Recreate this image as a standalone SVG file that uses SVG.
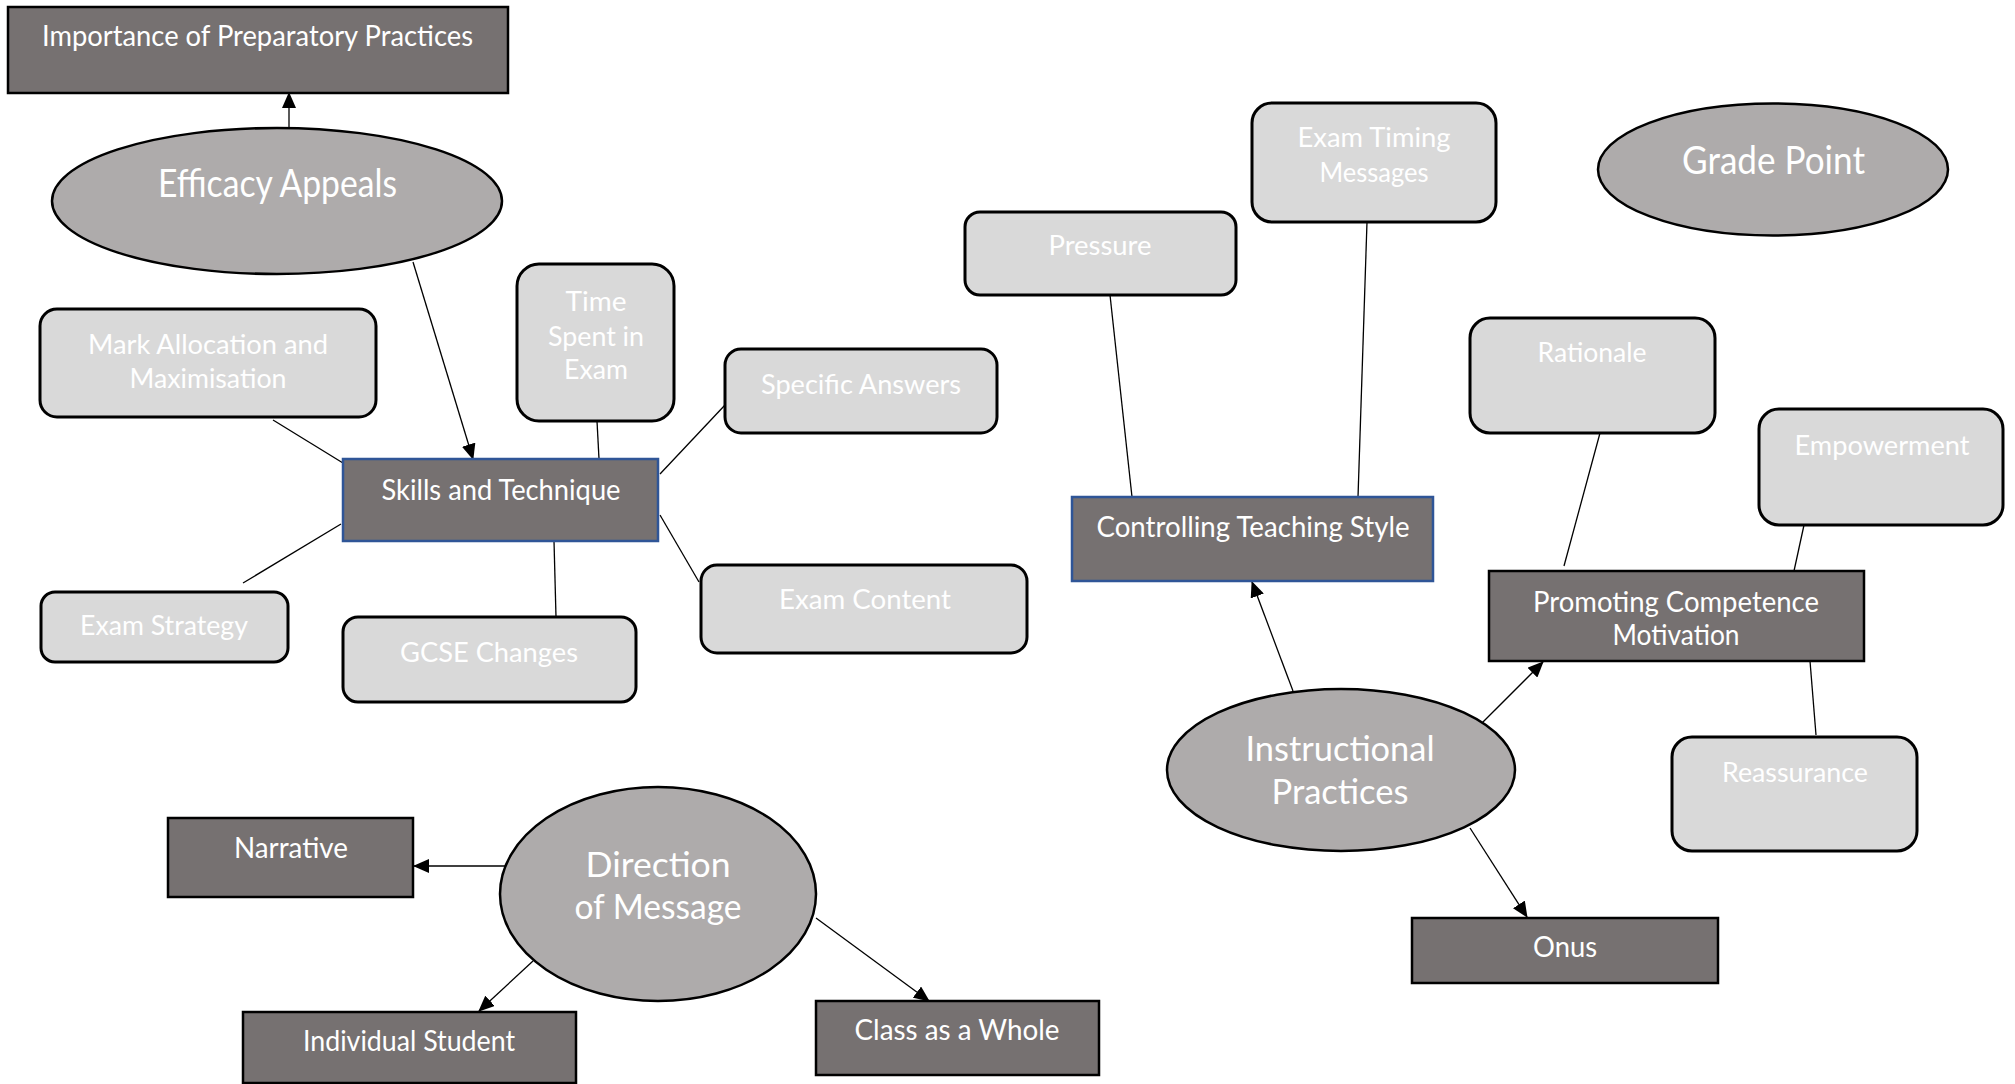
<svg xmlns="http://www.w3.org/2000/svg" width="2015" height="1084" viewBox="0 0 2015 1084">
<style>
.dark{fill:#767171;stroke:#000;stroke-width:2.5}
.dkb{fill:#767171;stroke:#2F5597;stroke-width:2.5}
.light{fill:#D9D9D9;stroke:#000;stroke-width:3}
.ell{fill:#AEABAB;stroke:#000;stroke-width:2.5}
text{font-family:Lato,"Open Sans","Liberation Sans",sans-serif;fill:#fff;text-anchor:middle}
.t26{font-size:26px}
.t28{font-size:28px}
.t34{font-size:35px}
.t38{font-size:38px}
.c line{stroke:#000;stroke-width:1.3}
</style>
<defs>
<marker id="ah" markerUnits="userSpaceOnUse" markerWidth="16" markerHeight="14" refX="15" refY="7" orient="auto">
<path d="M0,0 L16,7 L0,14 Z" fill="#000"/>
</marker>
</defs>
<g class="c" id="connectors">
<line x1="289" y1="128" x2="289" y2="93" marker-end="url(#ah)"/>
<line x1="413" y1="262" x2="473" y2="459" marker-end="url(#ah)"/>
<line x1="273" y1="420" x2="343" y2="463"/>
<line x1="597" y1="421" x2="599" y2="459"/>
<line x1="660" y1="474" x2="725" y2="405"/>
<line x1="660" y1="515" x2="699" y2="582"/>
<line x1="341" y1="524" x2="243" y2="583"/>
<line x1="554" y1="541" x2="556" y2="617"/>
<line x1="1110" y1="295" x2="1132" y2="497"/>
<line x1="1367" y1="222" x2="1358" y2="497"/>
<line x1="1293" y1="691" x2="1252" y2="582" marker-end="url(#ah)"/>
<line x1="1480" y1="725" x2="1543" y2="662" marker-end="url(#ah)"/>
<line x1="1470" y1="828" x2="1527" y2="917" marker-end="url(#ah)"/>
<line x1="1600" y1="433" x2="1564" y2="566"/>
<line x1="1804" y1="525" x2="1794" y2="571"/>
<line x1="1810" y1="661" x2="1816" y2="735"/>
<line x1="506" y1="866" x2="414" y2="866" marker-end="url(#ah)"/>
<line x1="533" y1="961" x2="479" y2="1011" marker-end="url(#ah)"/>
<line x1="816" y1="918" x2="929" y2="1001" marker-end="url(#ah)"/>
</g>
<g id="importance"><rect class="dark" x="8" y="7" width="500" height="86"/><text class="t28" x="257.5" y="46" textLength="431" lengthAdjust="spacingAndGlyphs">Importance of Preparatory Practices</text></g>
<g id="efficacy"><ellipse class="ell" cx="277" cy="201" rx="225" ry="73"/><text class="t38" x="277.5" y="197" textLength="239" lengthAdjust="spacingAndGlyphs">Efficacy Appeals</text></g>
<g id="mark"><rect class="light" x="40" y="309" width="336" height="108" rx="17"/><text class="t26" x="208" y="354" textLength="240" lengthAdjust="spacingAndGlyphs">Mark Allocation and</text><text class="t26" x="208" y="388" textLength="157" lengthAdjust="spacingAndGlyphs">Maximisation</text></g>
<g id="time"><rect class="light" x="517" y="264" width="157" height="157" rx="22"/><text class="t26" x="596" y="311" textLength="61" lengthAdjust="spacingAndGlyphs">Time</text><text class="t26" x="596" y="346" textLength="96" lengthAdjust="spacingAndGlyphs">Spent in</text><text class="t26" x="596" y="379" textLength="64" lengthAdjust="spacingAndGlyphs">Exam</text></g>
<g id="skills"><rect class="dkb" x="343" y="459" width="315" height="82"/><text class="t28" x="501" y="500" textLength="239" lengthAdjust="spacingAndGlyphs">Skills and Technique</text></g>
<g id="specific"><rect class="light" x="725" y="349" width="272" height="84" rx="16"/><text class="t26" x="861" y="394" textLength="200" lengthAdjust="spacingAndGlyphs">Specific Answers</text></g>
<g id="content"><rect class="light" x="701" y="565" width="326" height="88" rx="16"/><text class="t26" x="865" y="609" textLength="172" lengthAdjust="spacingAndGlyphs">Exam Content</text></g>
<g id="strategy"><rect class="light" x="41" y="592" width="247" height="70" rx="14"/><text class="t26" x="164" y="635" textLength="168" lengthAdjust="spacingAndGlyphs">Exam Strategy</text></g>
<g id="gcse"><rect class="light" x="343" y="617" width="293" height="85" rx="15"/><text class="t26" x="489" y="662" textLength="178" lengthAdjust="spacingAndGlyphs">GCSE Changes</text></g>
<g id="pressure"><rect class="light" x="965" y="212" width="271" height="83" rx="15"/><text class="t26" x="1100" y="255" textLength="103" lengthAdjust="spacingAndGlyphs">Pressure</text></g>
<g id="timing"><rect class="light" x="1252" y="103" width="244" height="119" rx="20"/><text class="t26" x="1374" y="147" textLength="153" lengthAdjust="spacingAndGlyphs">Exam Timing</text><text class="t26" x="1374" y="182" textLength="109" lengthAdjust="spacingAndGlyphs">Messages</text></g>
<g id="controlling"><rect class="dkb" x="1072" y="497" width="361" height="84"/><text class="t28" x="1253" y="537" textLength="313" lengthAdjust="spacingAndGlyphs">Controlling Teaching Style</text></g>
<g id="grade"><ellipse class="ell" cx="1773" cy="169.5" rx="175" ry="66"/><text class="t38" x="1773.5" y="174" textLength="183" lengthAdjust="spacingAndGlyphs">Grade Point</text></g>
<g id="rationale"><rect class="light" x="1470" y="318" width="245" height="115" rx="20"/><text class="t26" x="1592" y="362" textLength="109" lengthAdjust="spacingAndGlyphs">Rationale</text></g>
<g id="empowerment"><rect class="light" x="1759" y="409" width="244" height="116" rx="20"/><text class="t26" x="1882" y="455" textLength="175" lengthAdjust="spacingAndGlyphs">Empowerment</text></g>
<g id="promoting"><rect class="dark" x="1489" y="571" width="375" height="90"/><text class="t28" x="1676" y="612" textLength="286" lengthAdjust="spacingAndGlyphs">Promoting Competence</text><text class="t28" x="1676" y="645" textLength="127" lengthAdjust="spacingAndGlyphs">Motivation</text></g>
<g id="reassurance"><rect class="light" x="1672" y="737" width="245" height="114" rx="20"/><text class="t26" x="1795" y="782" textLength="146" lengthAdjust="spacingAndGlyphs">Reassurance</text></g>
<g id="instructional"><ellipse class="ell" cx="1341" cy="770" rx="174" ry="81"/><text class="t34" x="1340" y="761" textLength="189" lengthAdjust="spacingAndGlyphs">Instructional</text><text class="t34" x="1340" y="804" textLength="137" lengthAdjust="spacingAndGlyphs">Practices</text></g>
<g id="onus"><rect class="dark" x="1412" y="918" width="306" height="65"/><text class="t28" x="1565" y="957" textLength="64" lengthAdjust="spacingAndGlyphs">Onus</text></g>
<g id="narrative"><rect class="dark" x="168" y="818" width="245" height="79"/><text class="t28" x="291" y="858" textLength="114" lengthAdjust="spacingAndGlyphs">Narrative</text></g>
<g id="direction"><ellipse class="ell" cx="658" cy="894" rx="158" ry="107"/><text class="t34" x="658" y="877" textLength="145" lengthAdjust="spacingAndGlyphs">Direction</text><text class="t34" x="658" y="919" textLength="167" lengthAdjust="spacingAndGlyphs">of Message</text></g>
<g id="individual"><rect class="dark" x="243" y="1012" width="333" height="71"/><text class="t28" x="409" y="1051" textLength="212" lengthAdjust="spacingAndGlyphs">Individual Student</text></g>
<g id="class"><rect class="dark" x="816" y="1001" width="283" height="74"/><text class="t28" x="957" y="1040" textLength="205" lengthAdjust="spacingAndGlyphs">Class as a Whole</text></g>
</svg>
